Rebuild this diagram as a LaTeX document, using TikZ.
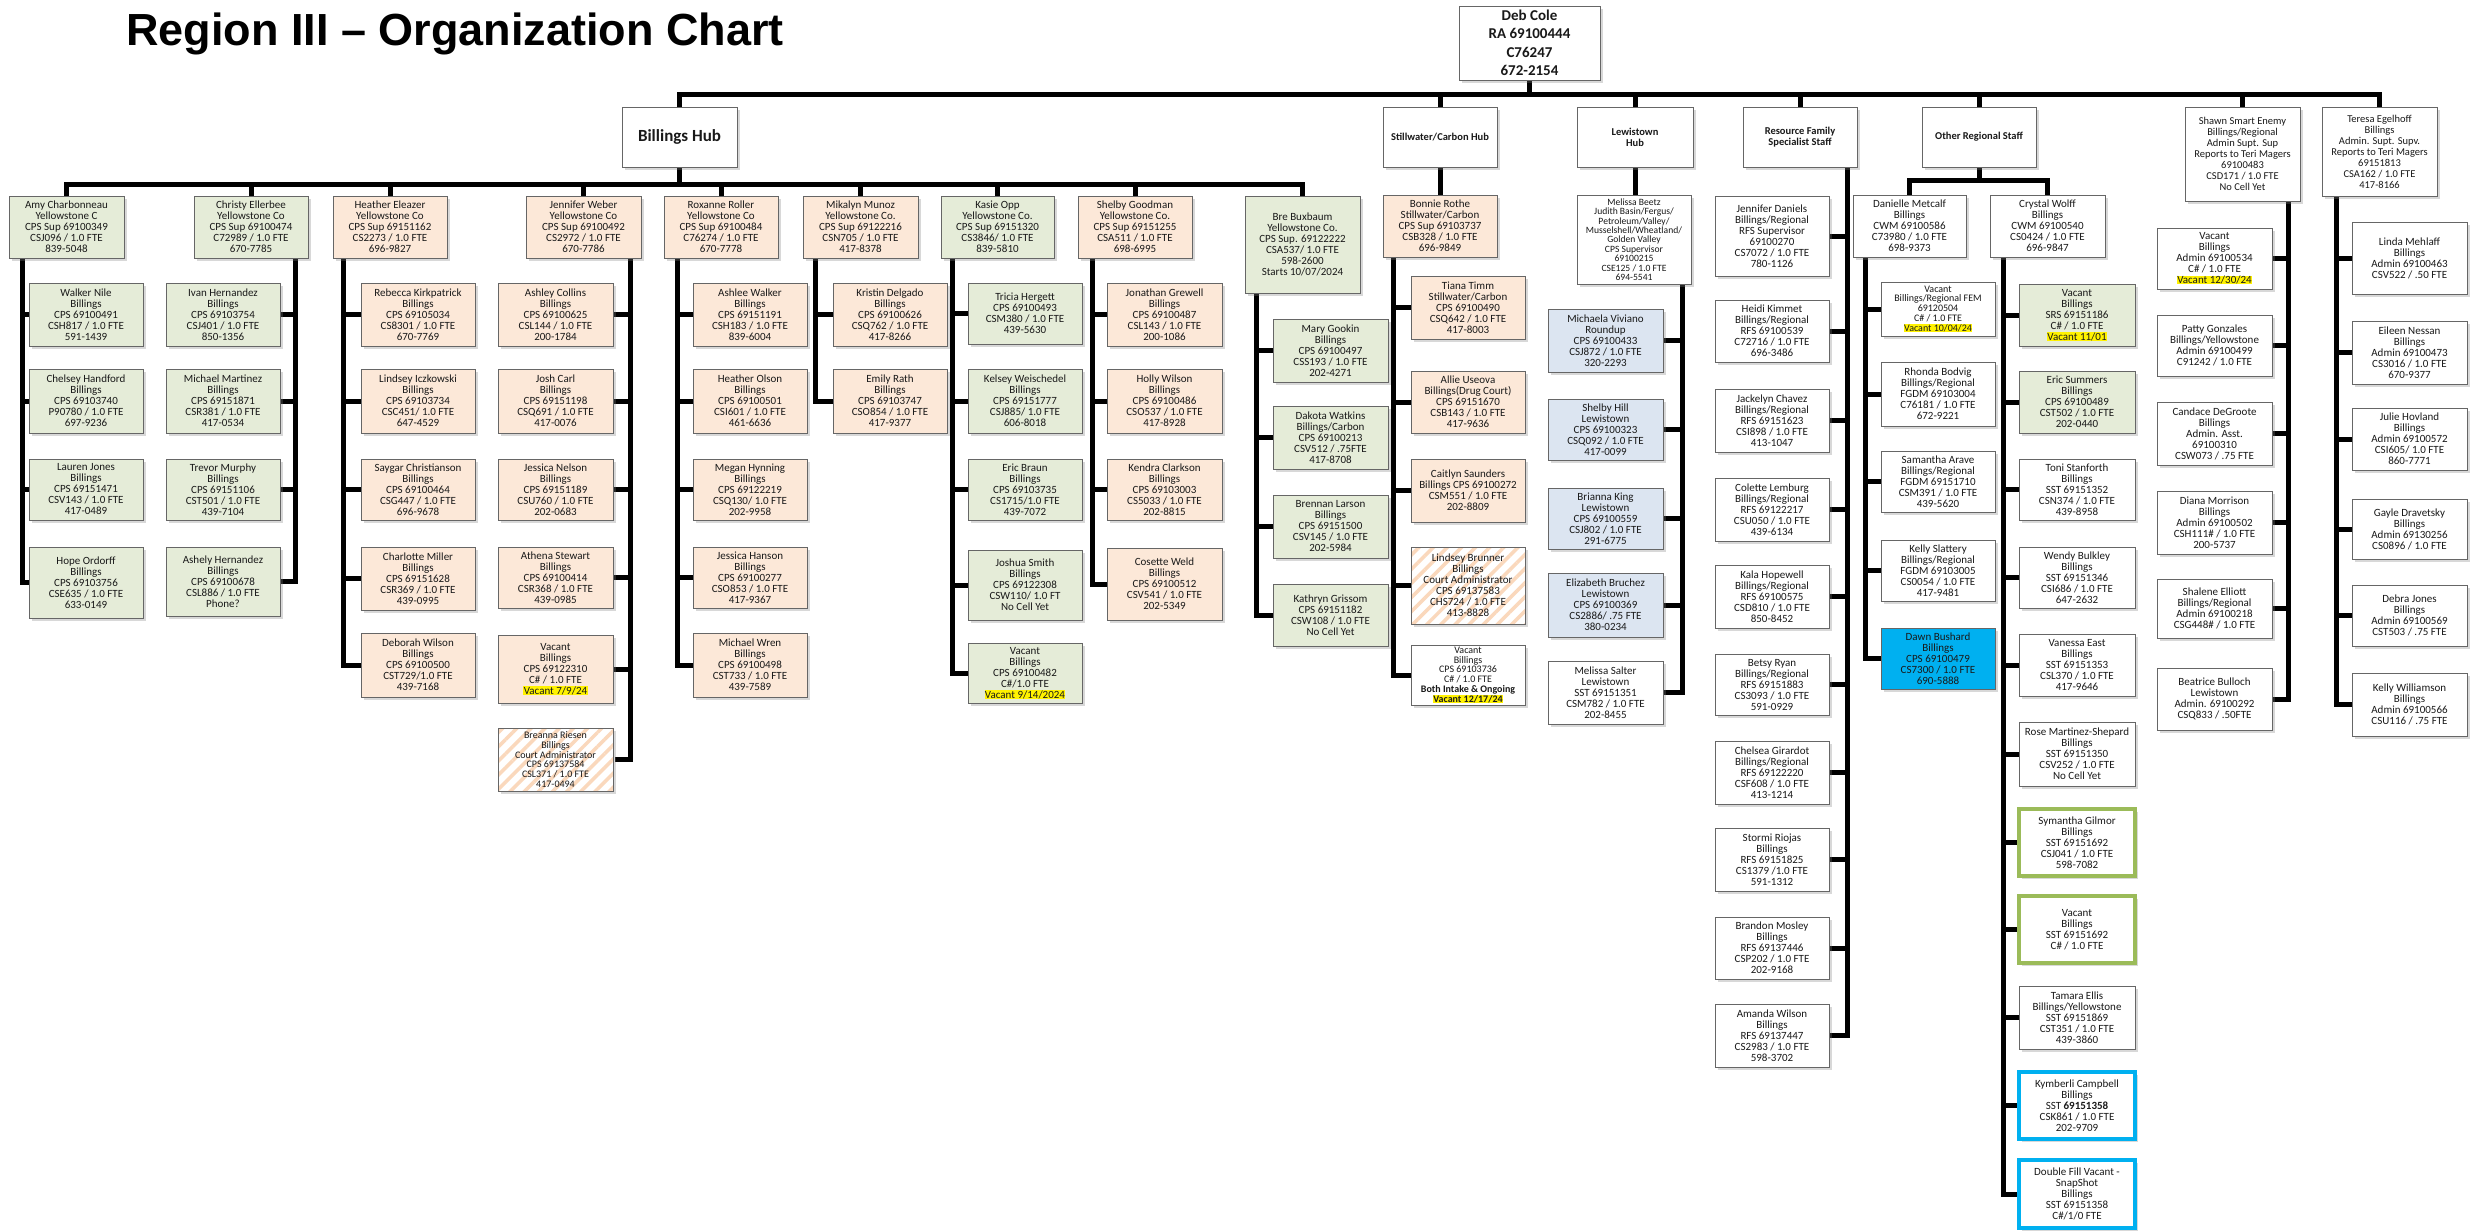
\documentclass[tikz,border=0pt]{standalone}
\usepackage{fontspec}
\setmainfont{Carlito}
\newfontfamily\titlefam{Liberation Sans}
\usetikzlibrary{shadows,patterns.meta}
\pgfdeclarelayer{bg}
\pgfsetlayers{bg,main}

\definecolor{grn}{HTML}{E5ECD8}
\definecolor{org}{HTML}{FCE8D8}
\definecolor{lblu}{HTML}{DCE5F1}
\definecolor{bblu}{HTML}{00B0F0}
\definecolor{gbord}{HTML}{9BBB59}
\definecolor{stripe}{HTML}{FAD8BC}

\newcommand\bxf{\fontsize{11}{11}\selectfont}
\newcommand\tightf{\fontsize{10}{9.8}\selectfont}
\newcommand\midf{\fontsize{10.5}{11}\selectfont}
\newcommand\hlt[1]{{\setlength{\fboxsep}{0.4pt}\colorbox{yellow}{#1}}}
\newcommand\ocbox[7]{\node[#2, minimum width={(#5)-(#3)}, minimum height={(#6)-(#4)}] (#1) at ({((#3)+(#5))/2},{((#4)+(#6))/2}) {#7};}
\newcommand\octrunk[5]{%
  \coordinate (tmpT) at (#2,0);
  \draw[conn] (#1.south -| tmpT) |- (#5.#3);
  \foreach \k in {#4} {\draw[conn] (\k.#3) -- (\k.#3 -| tmpT);}
}

\tikzset{
  bxbase/.style={draw=black!60, line width=0.9pt, inner sep=1pt, align=center, font=\bxf, text=black!90,
    drop shadow={shadow xshift=2.5pt,shadow yshift=-3pt,opacity=0.3}},
  bxg/.style={bxbase, fill=grn},
  bxo/.style={bxbase, fill=org},
  bxl/.style={bxbase, fill=lblu},
  bxw/.style={bxbase, fill=white},
  bxd/.style={bxbase, fill=bblu},
  bxh/.style={bxbase, preaction={fill=white}, pattern={Lines[angle=45,distance=10pt,line width=3.5pt]}, pattern color=stripe},
  bxgb/.style={bxw, draw=gbord, line width=3.5pt},
  bxbb/.style={bxw, draw=bblu, line width=3.5pt},
  hubx/.style={bxw, font=\bfseries\fontsize{10.5}{11}\selectfont},
  debx/.style={bxw, font=\bfseries\fontsize{15}{18.5}\selectfont},
  conn/.style={line width=5pt, draw=black}
}

\begin{document}
\begin{tikzpicture}[x=1pt,y=-1pt]
\begin{pgfonlayer}{bg}
\fill[white] (0,0) rectangle (2483,1231);
\end{pgfonlayer}
\useasboundingbox (0,0) rectangle (2483,1231);

\node[anchor=base west, inner sep=0pt, font=\titlefam\bfseries\fontsize{45}{50}\selectfont] (title) at (126,46) {Region III – Organization Chart};

% top level
\ocbox{deb}{debx}{1459}{6}{1600}{80}{Deb Cole\\RA 69100444\\C76247\\672-2154}
\ocbox{bh}{hubx,font=\bfseries\fontsize{17}{18}\selectfont}{622}{107}{737}{167}{Billings Hub}
\ocbox{sw}{hubx}{1383}{107}{1497}{167}{Stillwater/Carbon Hub}
\ocbox{lw}{hubx}{1577}{107}{1693}{167}{Lewistown\\Hub}
\ocbox{rf}{hubx}{1743}{107}{1857}{167}{Resource Family\\Specialist Staff}
\ocbox{ors}{hubx}{1922}{107}{2036}{167}{Other Regional Staff}
\ocbox{shawn}{bxw,font=\midf}{2185}{107}{2300}{201}{Shawn Smart Enemy\\Billings/Regional\\Admin Supt. Sup\\Reports to Teri Magers\\69100483\\CSD171 / 1.0 FTE\\No Cell Yet}
\ocbox{teresa}{bxw,font=\midf}{2322}{107}{2437}{196}{Teresa Egelhoff\\Billings\\Admin. Supt. Supv.\\Reports to Teri Magers\\69151813\\CSA162 / 1.0 FTE\\417-8166}

% Billings supervisors
\ocbox{amy}{bxg}{9}{196}{124}{258}{Amy Charbonneau\\Yellowstone C\\CPS Sup 69100349\\CSJ096 / 1.0 FTE\\839-5048}
\ocbox{christy}{bxg}{194}{196}{308}{258}{Christy Ellerbee\\Yellowstone Co\\CPS Sup 69100474\\C72989 / 1.0 FTE\\670-7785}
\ocbox{heather}{bxo}{333}{196}{447}{258}{Heather  Eleazer\\Yellowstone Co\\CPS Sup 69151162\\CS2273 / 1.0 FTE\\696-9827}
\ocbox{jennifer}{bxo}{526}{196}{641}{258}{Jennifer Weber\\Yellowstone Co\\CPS Sup 69100492\\CS2972 / 1.0 FTE\\670-7786}
\ocbox{roxanne}{bxo}{664}{196}{778}{258}{Roxanne Roller\\Yellowstone Co\\CPS Sup 69100484\\C76274 / 1.0 FTE\\670-7778}
\ocbox{mikalyn}{bxo}{803}{196}{918}{258}{Mikalyn Munoz\\Yellowstone Co.\\CPS Sup 69122216\\CSN705 / 1.0 FTE\\417-8378}
\ocbox{kasie}{bxg}{941}{196}{1054}{258}{Kasie Opp\\Yellowstone Co.\\CPS Sup 69151320\\CS3846/ 1.0 FTE\\839-5810}
\ocbox{shelby}{bxo}{1078}{196}{1192}{258}{Shelby Goodman\\Yellowstone Co.\\CPS Sup 69151255\\CSA511 / 1.0 FTE\\698-6995}
\ocbox{bre}{bxg}{1245}{196}{1360}{293}{Bre Buxbaum\\Yellowstone Co.\\CPS Sup. 69122222\\CSA537/ 1.0 FTE\\598-2600\\Starts 10/07/2024}

% Amy
\ocbox{walker}{bxg}{29}{283}{143}{346}{Walker Nile\\Billings\\CPS 69100491\\CSH817 / 1.0 FTE\\591-1439}
\ocbox{chelsey}{bxg}{29}{369}{143}{433}{Chelsey Handford\\Billings\\CPS 69103740\\P90780 / 1.0 FTE\\697-9236}
\ocbox{lauren}{bxg}{29}{459}{143}{520}{Lauren Jones\\Billings\\CPS 69151471\\CSV143 / 1.0 FTE\\417-0489}
\ocbox{hope}{bxg}{29}{547}{143}{618}{Hope Ordorff\\Billings\\CPS 69103756\\CSE635 / 1.0 FTE\\633-0149}
% Christy
\ocbox{ivan}{bxg}{166}{283}{280}{346}{Ivan Hernandez\\Billings\\CPS 69103754\\CSJ401 / 1.0 FTE\\850-1356}
\ocbox{michaelm}{bxg}{166}{369}{280}{433}{Michael Martinez\\Billings\\CPS  69151871\\CSR381  / 1.0 FTE\\417-0534}
\ocbox{trevor}{bxg}{166}{459}{280}{520}{Trevor Murphy\\Billings\\CPS 69151106\\CST501 / 1.0 FTE\\439-7104}
\ocbox{ashely}{bxg}{166}{547}{280}{616}{Ashely Hernandez\\Billings\\CPS 69100678\\CSL886 / 1.0 FTE\\Phone?}
% Heather
\ocbox{rebecca}{bxo}{361}{283}{475}{346}{Rebecca Kirkpatrick\\Billings\\CPS 69105034\\CS8301 / 1.0 FTE\\670-7769}
\ocbox{lindsey}{bxo}{361}{369}{475}{433}{Lindsey Iczkowski\\Billings\\CPS 69103734\\CSC451/ 1.0 FTE\\647-4529}
\ocbox{saygar}{bxo}{361}{459}{475}{520}{Saygar Christianson\\Billings\\CPS 69100464\\CSG447 / 1.0 FTE\\696-9678}
\ocbox{charlotte}{bxo}{361}{547}{475}{610}{Charlotte Miller\\Billings\\CPS 69151628\\CSR369 / 1.0 FTE\\439-0995}
\ocbox{deborah}{bxo}{361}{633}{475}{697}{Deborah Wilson\\Billings\\CPS 69100500\\CST729/1.0 FTE\\439-7168}
% Jennifer
\ocbox{ashley}{bxo}{498}{283}{613}{346}{Ashley Collins\\Billings\\CPS 69100625\\CSL144 / 1.0 FTE\\200-1784}
\ocbox{josh}{bxo}{498}{369}{613}{433}{Josh Carl\\Billings\\CPS 69151198\\CSQ691 / 1.0 FTE\\417-0076}
\ocbox{jessican}{bxo}{498}{459}{613}{520}{Jessica Nelson\\Billings\\CPS 69151189\\CSU760 / 1.0 FTE\\202-0683}
\ocbox{athena}{bxo}{498}{547}{613}{608}{Athena Stewart\\Billings\\CPS 69100414\\CSR368 / 1.0 FTE\\439-0985}
\ocbox{jvac}{bxo}{498}{635}{613}{703}{Vacant\\Billings\\CPS 69122310\\C\# / 1.0 FTE\\\hlt{Vacant 7/9/24}}
\ocbox{breanna}{bxh,font=\tightf}{498}{728}{613}{791}{Breanna Riesen\\Billings\\Court Administrator\\CPS 69137584\\CSL371 / 1.0 FTE\\417-0494}
% Roxanne
\ocbox{ashlee}{bxo}{693}{283}{807}{346}{Ashlee Walker\\Billings\\CPS 69151191\\CSH183 / 1.0 FTE\\839-6004}
\ocbox{heathero}{bxo}{693}{369}{807}{433}{Heather Olson\\Billings\\CPS 69100501\\CSI601 / 1.0 FTE\\461-6636}
\ocbox{megan}{bxo}{693}{459}{807}{520}{Megan Hynning\\Billings\\CPS 69122219\\CSQ130/ 1.0 FTE\\202-9958}
\ocbox{jessicah}{bxo}{693}{547}{807}{608}{Jessica Hanson\\Billings\\CPS 69100277\\CSO853 / 1.0 FTE\\417-9367}
\ocbox{wren}{bxo}{693}{633}{807}{697}{Michael Wren\\Billings\\CPS 69100498\\CST733 / 1.0 FTE\\439-7589}
% Mikalyn
\ocbox{kristin}{bxo}{833}{283}{947}{346}{Kristin Delgado\\Billings\\CPS 69100626\\CSQ762 / 1.0 FTE\\417-8266}
\ocbox{emily}{bxo}{833}{369}{947}{433}{Emily Rath\\Billings\\CPS 69103747\\CSO854 / 1.0 FTE\\417-9377}
% Kasie
\ocbox{tricia}{bxg}{968}{283}{1082}{344}{Tricia Hergett\\CPS 69100493\\CSM380 / 1.0 FTE\\439-5630}
\ocbox{kelsey}{bxg}{968}{369}{1082}{433}{Kelsey Weischedel\\Billings\\CPS 69151777\\CSJ885/ 1.0 FTE\\606-8018}
\ocbox{eric}{bxg}{968}{459}{1082}{520}{Eric Braun\\Billings\\CPS 69103735\\CS1715/1.0 FTE\\439-7072}
\ocbox{joshua}{bxg}{968}{550}{1082}{620}{Joshua Smith\\Billings\\CPS 69122308\\CSW110/ 1.0 FT\\No Cell Yet}
\ocbox{kvac}{bxg}{968}{643}{1082}{703}{Vacant\\Billings\\CPS 69100482\\C\#/1.0 FTE\\\hlt{Vacant  9/14/2024}}
% Shelby
\ocbox{jonathan}{bxo}{1107}{283}{1222}{346}{Jonathan Grewell\\Billings\\CPS 69100487\\CSL143 / 1.0 FTE\\200-1086}
\ocbox{holly}{bxo}{1107}{369}{1222}{433}{Holly Wilson\\Billings\\CPS 69100486\\CSO537 / 1.0 FTE\\417-8928}
\ocbox{kendra}{bxo}{1107}{459}{1222}{520}{Kendra Clarkson\\Billings\\CPS 69103003\\CS5033 / 1.0 FTE\\202-8815}
\ocbox{cosette}{bxo}{1107}{548}{1222}{620}{Cosette Weld\\Billings\\CPS 69100512\\CSV541 / 1.0 FTE\\202-5349}
% Bre
\ocbox{mary}{bxg}{1273}{319}{1388}{382}{Mary Gookin\\Billings\\CPS 69100497\\CSS193 / 1.0 FTE\\202-4271}
\ocbox{dakota}{bxg}{1273}{406}{1388}{469}{Dakota Watkins\\Billings/Carbon\\CPS 69100213\\CSV512 / .75FTE\\417-8708}
\ocbox{brennan}{bxg}{1273}{495}{1388}{558}{Brennan Larson\\Billings\\CPS 69151500\\CSV145 / 1.0 FTE\\202-5984}
\ocbox{kathryn}{bxg}{1273}{584}{1388}{646}{Kathryn Grissom\\CPS 69151182\\CSW108 / 1.0 FTE\\No Cell Yet}

% Stillwater
\ocbox{bonnie}{bxo}{1383}{195}{1497}{257}{Bonnie Rothe\\Stillwater/Carbon\\CPS Sup 69103737\\CSB328 / 1.0 FTE\\696-9849}
\ocbox{tiana}{bxo}{1411}{276}{1525}{339}{Tiana Timm\\Stillwater/Carbon\\CPS 69100490\\CSQ642 / 1.0 FTE\\417-8003}
\ocbox{allie}{bxo}{1411}{371}{1525}{433}{Allie Useova\\Billings(Drug Court)\\CPS 69151670\\CSB143 / 1.0 FTE\\417-9636}
\ocbox{caitlyn}{bxo}{1411}{459}{1525}{522}{Caitlyn Saunders\\Billings CPS 69100272\\CSM551 / 1.0 FTE\\202-8809}
\ocbox{lbrunner}{bxh}{1411}{547}{1525}{624}{Lindsey Brunner\\Billings\\Court Administrator\\CPS 69137583\\CHS724  / 1.0 FTE\\413-8828}
\ocbox{svac}{bxw,font=\tightf}{1411}{645}{1525}{705}{Vacant\\Billings\\CPS 69103736\\C\# / 1.0 FTE\\\textbf{Both Intake \& Ongoing}\\\hlt{\textbf{Vacant 12/17/24}}}

% Lewistown
\ocbox{beetz}{bxw,font=\fontsize{9.6}{9.4}\selectfont}{1577}{195}{1691}{284}{Melissa Beetz\\Judith Basin/Fergus/\\Petroleum/Valley/\\Musselshell/Wheatland/\\Golden Valley\\CPS Supervisor\\69100215\\CSE125 / 1.0 FTE\\694-5541}
\ocbox{michaela}{bxl}{1548}{309}{1663}{372}{Michaela Viviano\\Roundup\\CPS 69100433\\CSJ872 / 1.0 FTE\\320-2293}
\ocbox{shill}{bxl}{1548}{399}{1663}{460}{Shelby Hill\\Lewistown\\CPS 69100323\\CSQ092 / 1.0 FTE\\417-0099}
\ocbox{bking}{bxl}{1548}{488}{1663}{549}{Brianna King\\Lewistown\\CPS 69100559\\CSJ802 / 1.0 FTE\\291-6775}
\ocbox{ebruchez}{bxl}{1548}{573}{1663}{637}{Elizabeth Bruchez\\Lewistown\\CPS 69100369\\CS2886/ .75 FTE\\380-0234}
\ocbox{msalter}{bxw}{1548}{661}{1663}{724}{Melissa Salter\\Lewistown\\SST 69151351\\CSM782 / 1.0 FTE\\202-8455}

% Resource family
\ocbox{jdaniels}{bxw}{1715}{196}{1829}{276}{Jennifer Daniels\\Billings/Regional\\RFS Supervisor\\69100270\\CS7072 / 1.0 FTE\\780-1126}
\ocbox{heidi}{bxw}{1715}{300}{1829}{362}{Heidi Kimmet\\Billings/Regional\\RFS 69100539\\C72716 / 1.0 FTE\\696-3486}
\ocbox{jackelyn}{bxw}{1715}{389}{1829}{452}{Jackelyn Chavez\\Billings/Regional\\RFS 69151623\\CSI898 / 1.0 FTE\\413-1047}
\ocbox{colette}{bxw}{1715}{478}{1829}{541}{Colette Lemburg\\Billings/Regional\\RFS 69122217\\CSU050 / 1.0 FTE\\439-6134}
\ocbox{kala}{bxw}{1715}{565}{1829}{628}{Kala Hopewell\\Billings/Regional\\RFS 69100575\\CSD810 / 1.0 FTE\\850-8452}
\ocbox{betsy}{bxw}{1715}{654}{1829}{715}{Betsy Ryan\\Billings/Regional\\RFS 69151883\\CS3093 / 1.0 FTE\\591-0929}
\ocbox{chelsea}{bxw}{1715}{741}{1829}{804}{Chelsea Girardot\\Billings/Regional\\RFS 69122220\\CSF608 / 1.0 FTE\\413-1214}
\ocbox{stormi}{bxw}{1715}{828}{1829}{891}{Stormi Riojas\\Billings\\RFS 69151825\\CS1379 /1.0 FTE\\591-1312}
\ocbox{brandon}{bxw}{1715}{917}{1829}{979}{Brandon Mosley\\Billings\\RFS 69137446\\CSP202 / 1.0 FTE\\202-9168}
\ocbox{amanda}{bxw}{1715}{1004}{1829}{1067}{Amanda Wilson\\Billings\\RFS 69137447\\CS2983 / 1.0 FTE\\598-3702}

% Other regional staff
\ocbox{danielle}{bxw}{1853}{195}{1966}{257}{Danielle Metcalf\\Billings\\CWM 69100586\\C73980 / 1.0 FTE\\698-9373}
\ocbox{crystal}{bxw}{1990}{195}{2105}{257}{Crystal Wolff\\Billings\\CWM 69100540\\CS0424 / 1.0 FTE\\696-9847}
\ocbox{fem}{bxw,font=\tightf}{1881}{282}{1995}{336}{Vacant\\Billings/Regional FEM\\69120504\\C\# / 1.0 FTE\\\hlt{Vacant 10/04/24}}
\ocbox{rhonda}{bxw}{1881}{362}{1995}{426}{Rhonda Bodvig\\Billings/Regional\\FGDM 69103004\\C76181 / 1.0 FTE\\672-9221}
\ocbox{samantha}{bxw}{1881}{451}{1995}{512}{Samantha Arave\\Billings/Regional\\FGDM 69151710\\CSM391 / 1.0 FTE\\439-5620}
\ocbox{kellys}{bxw}{1881}{540}{1995}{601}{Kelly Slattery\\Billings/Regional\\FGDM 69103005\\CS0054 / 1.0 FTE\\417-9481}
\ocbox{dawn}{bxd}{1881}{628}{1995}{689}{Dawn Bushard\\Billings\\CPS 69100479\\CS7300 / 1.0 FTE\\690-5888}
\ocbox{srs}{bxg}{2019}{284}{2135}{346}{Vacant\\Billings\\SRS 69151186\\C\# / 1.0 FTE\\\hlt{Vacant 11/01}}
\ocbox{erics}{bxg}{2019}{371}{2135}{433}{Eric Summers\\Billings\\CPS 69100489\\CST502 / 1.0 FTE\\202-0440}
\ocbox{toni}{bxw}{2019}{459}{2135}{520}{Toni Stanforth\\Billings\\SST 69151352\\CSN374 / 1.0 FTE\\439-8958}
\ocbox{wendy}{bxw}{2019}{547}{2135}{608}{Wendy Bulkley\\Billings\\SST 69151346\\CSI686 / 1.0 FTE\\647-2632}
\ocbox{vanessa}{bxw}{2019}{634}{2135}{696}{Vanessa East\\Billings\\SST 69151353\\CSL370 / 1.0 FTE\\417-9646}
\ocbox{rose}{bxw}{2019}{722}{2135}{786}{Rose Martinez-Shepard\\Billings\\SST 69151350\\CSV252 / 1.0 FTE\\No Cell Yet}
\ocbox{symantha}{bxgb}{2019}{809}{2135}{876}{Symantha Gilmor\\Billings\\SST 69151692\\CSJ041 / 1.0 FTE\\598-7082}
\ocbox{vsst}{bxgb}{2019}{896}{2135}{963}{Vacant\\Billings\\SST 69151692\\C\# / 1.0 FTE}
\ocbox{tamara}{bxw}{2019}{986}{2135}{1049}{Tamara Ellis\\Billings/Yellowstone\\SST 69151869\\CST351 / 1.0 FTE\\439-3860}
\ocbox{kymberli}{bxbb}{2019}{1072}{2135}{1139}{Kymberli Campbell\\Billings\\SST \textbf{69151358}\\CSK861 / 1.0 FTE\\202-9709}
\ocbox{dfill}{bxbb}{2019}{1160}{2135}{1228}{Double Fill Vacant -\\SnapShot\\Billings\\SST 69151358\\C\#/1/0 FTE}

% Shawn
\ocbox{shvac}{bxw}{2157}{228}{2272}{289}{Vacant\\Billings\\Admin 69100534\\C\# / 1.0 FTE\\\hlt{Vacant 12/30/24}}
\ocbox{patty}{bxw}{2157}{315}{2272}{376}{Patty Gonzales\\Billings/Yellowstone\\Admin 69100499\\C91242 / 1.0 FTE}
\ocbox{candace}{bxw}{2157}{402}{2272}{465}{Candace DeGroote\\Billings\\Admin. Asst.\\69100310\\CSW073 / .75 FTE}
\ocbox{diana}{bxw}{2157}{491}{2272}{554}{Diana Morrison\\Billings\\Admin 69100502\\CSH111\# / 1.0 FTE\\200-5737}
\ocbox{shalene}{bxw}{2157}{579}{2272}{638}{Shalene Elliott\\Billings/Regional\\Admin 69100218\\CSG448\# / 1.0 FTE}
\ocbox{beatrice}{bxw}{2157}{668}{2272}{730}{Beatrice Bulloch\\Lewistown\\Admin. 69100292\\CSQ833 / .50FTE}
% Teresa
\ocbox{linda}{bxw}{2352}{222}{2467}{294}{Linda Mehlaff\\Billings\\Admin 69100463\\CSV522 / .50 FTE}
\ocbox{eileen}{bxw}{2352}{321}{2467}{384}{Eileen Nessan\\Billings\\Admin 69100473\\CS3016 / 1.0 FTE\\670-9377}
\ocbox{julie}{bxw}{2352}{408}{2467}{470}{Julie Hovland\\Billings\\Admin 69100572\\CSI605/ 1.0 FTE\\860-7771}
\ocbox{gayle}{bxw}{2352}{499}{2467}{559}{Gayle Dravetsky\\Billings\\Admin 69130256\\CS0896 / 1.0 FTE}
\ocbox{debra}{bxw}{2352}{585}{2467}{646}{Debra Jones\\Billings\\Admin 69100569\\CST503 / .75 FTE}
\ocbox{kellyw}{bxw}{2352}{673}{2467}{736}{Kelly Williamson\\Billings\\Admin 69100566\\CSU116 / .75 FTE}

% connectors
\begin{pgfonlayer}{bg}
\coordinate (tbar) at (0,94);
\draw[conn] (bh.north) -- (bh.north |- tbar) -- (teresa.north |- tbar) -- (teresa.north);
\foreach \h in {sw,lw,rf,ors,shawn} {\draw[conn] (\h.north) -- (\h.north |- tbar);}
\draw[conn] (deb.south) -- (deb.south |- tbar);

\coordinate (bbar) at (0,184);
\draw[conn] (amy.north) -- (amy.north |- bbar) -- (bre.north |- bbar) -- (bre.north);
\foreach \h in {christy,heather,jennifer,roxanne,mikalyn,kasie,shelby} {\draw[conn] (\h.north) -- (\h.north |- bbar);}
\draw[conn] (bh.south) -- (bh.south |- bbar);

\coordinate (obar) at (0,180);
\draw[conn] (danielle.north) -- (danielle.north |- obar) -- (crystal.north |- obar) -- (crystal.north);
\draw[conn] (ors.south) -- (ors.south |- obar);

\draw[conn] (sw.south) -- (bonnie.north);
\draw[conn] (lw.south) -- (lw.south |- beetz.north);

\octrunk{amy}{22}{west}{walker,chelsey,lauren}{hope}
\octrunk{christy}{295}{east}{ivan,michaelm,trevor}{ashely}
\octrunk{heather}{343}{west}{rebecca,lindsey,saygar,charlotte}{deborah}
\octrunk{jennifer}{630}{east}{ashley,josh,jessican,athena,jvac}{breanna}
\octrunk{roxanne}{677}{west}{ashlee,heathero,megan,jessicah}{wren}
\octrunk{mikalyn}{815}{west}{kristin}{emily}
\octrunk{kasie}{952}{west}{tricia,kelsey,eric,joshua}{kvac}
\octrunk{shelby}{1092}{west}{jonathan,holly,kendra}{cosette}
\octrunk{bre}{1256}{west}{mary,dakota,brennan}{kathryn}
\octrunk{bonnie}{1393}{west}{tiana,allie,caitlyn,lbrunner}{svac}
\octrunk{beetz}{1682}{east}{michaela,shill,bking,ebruchez}{msalter}
\octrunk{rf}{1847}{east}{jdaniels,heidi,jackelyn,colette,kala,betsy,chelsea,stormi,brandon}{amanda}
\octrunk{danielle}{1865}{west}{fem,rhonda,samantha,kellys}{dawn}
\octrunk{crystal}{2003}{west}{srs,erics,toni,wendy,vanessa,rose,symantha,vsst,tamara,kymberli}{dfill}
\octrunk{shawn}{2288}{east}{shvac,patty,candace,diana,shalene}{beatrice}
\octrunk{teresa}{2336}{west}{linda,eileen,julie,gayle,debra}{kellyw}
\end{pgfonlayer}
\end{tikzpicture}
\end{document}
